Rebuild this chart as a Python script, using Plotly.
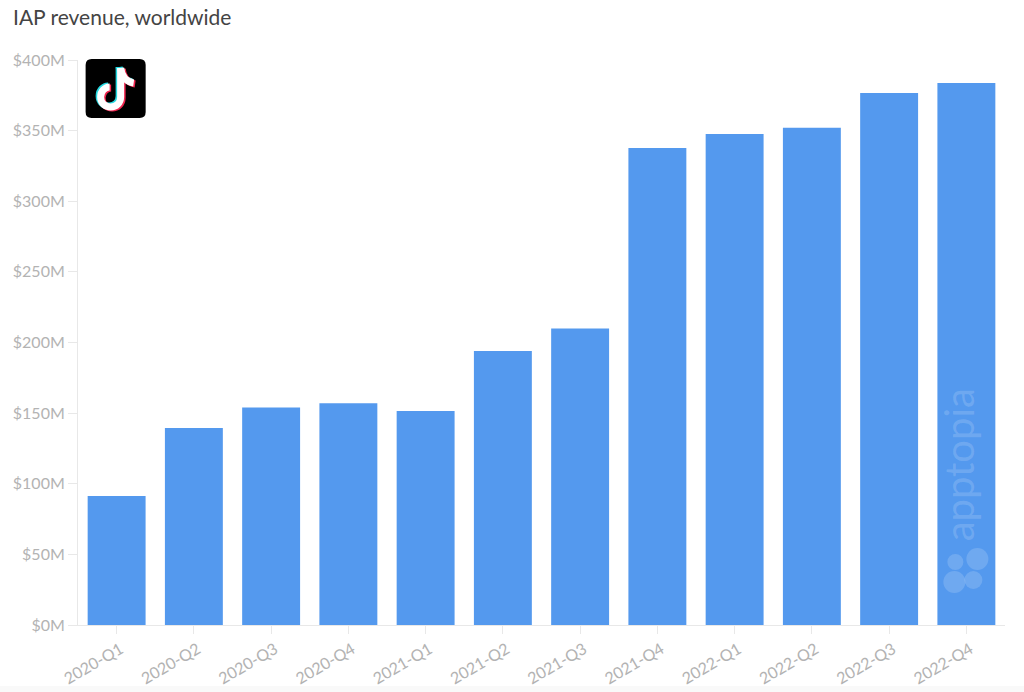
import plotly.graph_objects as go

quarters = ["2020-Q1", "2020-Q2", "2020-Q3", "2020-Q4", "2021-Q1", "2021-Q2",
            "2021-Q3", "2021-Q4", "2022-Q1", "2022-Q2", "2022-Q3", "2022-Q4"]
revenue = [91.3, 139.5, 154, 157, 151.5, 194, 210, 337.7, 347.6, 352, 376.6, 383.7]
y_ticks = [0, 50, 100, 150, 200, 250, 300, 350, 400]
y_labels = ["$0M", "$50M", "$100M", "$150M", "$200M", "$250M", "$300M", "$350M", "$400M"]
title_text = "IAP revenue, worldwide"
watermark = "apptopia"

W, H = 1024, 692
L, R, T, B = 78.4, 1004.6, 60, 625


def px(x):
    return (x - L) / (R - L)


def py(y):
    return (B - y) / (B - T)


def path(cmds, dx=0, dy=0):
    out = []
    for c, *pts in cmds:
        out.append(c + " ".join(f"{px(pts[i] + dx):.5f},{py(pts[i + 1] + dy):.5f}" for i in range(0, len(pts), 2)))
    return " ".join(out)


def paper_shape(**kw):
    return dict(xref="paper", yref="paper", **kw)


def circle(cx, cy, r, color, opacity):
    return paper_shape(type="circle", x0=px(cx - r), x1=px(cx + r), y0=py(cy + r), y1=py(cy - r),
                       fillcolor=color, opacity=opacity, line_width=0, layer="above")


r = 6
x0, x1, y0, y1 = 86, 146, 59, 118
logo_box = [("M", x0 + r, y0), ("L", x1 - r, y0), ("Q", x1, y0, x1, y0 + r), ("L", x1, y1 - r),
            ("Q", x1, y1, x1 - r, y1), ("L", x0 + r, y1), ("Q", x0, y1, x0, y1 - r), ("L", x0, y0 + r),
            ("Q", x0, y0, x0 + r, y0), ("Z",)]
note = [("M", 121, 68), ("L", 121, 97), ("C", 121, 103, 116.5, 107, 111, 107),
        ("C", 105.5, 107, 101, 103, 101, 97), ("C", 101, 91, 105.5, 87, 110, 87)]
flag = [("M", 121, 68), ("C", 122, 76, 127, 82, 134, 83)]

shapes = [
    paper_shape(type="rect", x0=px(0), x1=px(W), y0=py(H), y1=py(686), fillcolor="#f9f9f9",
                line_width=0, layer="below"),
    paper_shape(type="path", path=path(logo_box), fillcolor="#000000", line_width=0, layer="above"),
]
for color, dx, dy in [("#25d8e0", -1.5, -1), ("#f0264f", 1.5, 1), ("#ffffff", 0, 0)]:
    for seg in (note, flag):
        shapes.append(paper_shape(type="path", path=path(seg, dx, dy), line=dict(color=color, width=7),
                                  fillcolor="rgba(0,0,0,0)", layer="above"))
for cx, cy, rad in [(955, 562, 8), (977, 559, 11), (954, 582, 11), (973, 580, 9)]:
    shapes.append(circle(cx, cy, rad, "#ffffff", 0.16))

fig = go.Figure(go.Bar(x=quarters, y=revenue, marker=dict(color="#5499ee", line=dict(width=0)),
                       hoverinfo="skip"))

fig.update_layout(
    width=W, height=H, autosize=False,
    margin=dict(l=L, r=W - R, t=T, b=H - B, pad=0, autoexpand=False),
    paper_bgcolor="#ffffff", plot_bgcolor="#ffffff",
    font=dict(family="Lato", color="#b3b3b3", size=16),
    bargap=0.25, showlegend=False, shapes=shapes,
    annotations=[
        dict(text=title_text, xref="paper", yref="paper", x=px(11.5), y=py(16), xanchor="left", yanchor="middle",
             showarrow=False, font=dict(family="Lato", size=21, color="#444444")),
        dict(text=watermark, xref="paper", yref="paper", x=px(959), y=py(465), textangle=-90, xanchor="center",
             yanchor="middle", showarrow=False, font=dict(family="Lato", size=40, color="rgba(255,255,255,0.17)")),
    ],
)
fig.update_xaxes(type="category", tickangle=-30, ticks="outside", ticklen=8, tickcolor="#e8e8e8", tickwidth=1,
                 showline=True, linecolor="#e8e8e8", linewidth=1, showgrid=False, automargin=False,
                 ticklabelshift=4, tickfont=dict(size=16, color="#b3b3b3", family="Lato"))
fig.update_yaxes(range=[0, 400], tickvals=y_ticks, ticktext=y_labels, ticks="outside", ticklen=9,
                 tickcolor="#e8e8e8", tickwidth=1, showline=True, linecolor="#e8e8e8", linewidth=1,
                 showgrid=False, zeroline=False, automargin=False,
                 tickfont=dict(size=16, color="#b3b3b3", family="Lato"))

fig.write_html("out.html", config={"displayModeBar": False},
               post_script="document.body.style.margin='0';document.documentElement.style.overflow='hidden';")
